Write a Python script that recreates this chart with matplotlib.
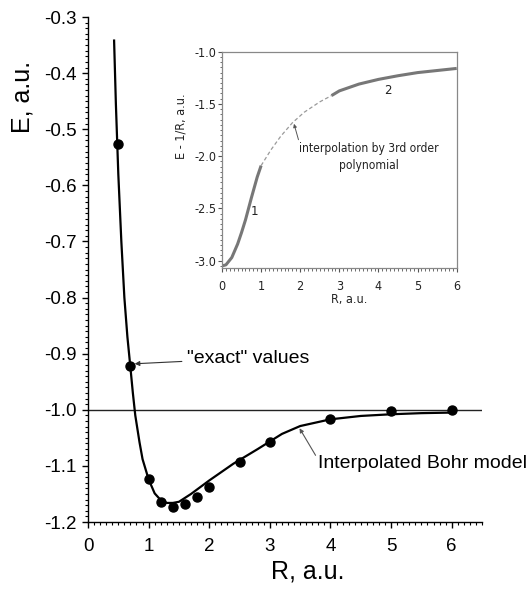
import matplotlib
matplotlib.use("Agg")
import matplotlib.pyplot as plt
from matplotlib import font_manager as fm
from matplotlib.ticker import MultipleLocator, FormatStrFormatter

# "exact" H2 ground-state energies
R_exact = [0.5, 0.7, 1.0, 1.2, 1.4, 1.6, 1.8, 2.0, 2.5, 3.0, 4.0, 5.0, 6.0]
E_exact = [-0.527, -0.922, -1.124, -1.165, -1.174, -1.168, -1.155, -1.138,
           -1.093, -1.057, -1.016, -1.003, -1.000]

# interpolated Bohr model curve
R_bohr = [0.43, 0.46, 0.50, 0.55, 0.60, 0.65, 0.70, 0.74, 0.78, 0.85, 0.90,
          1.00, 1.10, 1.20, 1.30, 1.40, 1.50, 1.70, 2.00, 2.40, 2.80, 3.20,
          3.50, 4.00, 4.50, 5.00, 5.50, 6.00]
E_bohr = [-0.340, -0.455, -0.580, -0.700, -0.800, -0.870, -0.925, -0.970,
          -1.010, -1.058, -1.088, -1.124, -1.149, -1.161, -1.166, -1.166,
          -1.164, -1.150, -1.126, -1.096, -1.070, -1.043, -1.029, -1.017,
          -1.011, -1.008, -1.006, -1.005]

# inset: E - 1/R, region 1 (small R), interpolation, region 2 (large R)
R_seg1 = [0.0, 0.1, 0.25, 0.4, 0.5, 0.6, 0.75, 0.9, 1.0]
E_seg1 = [-3.05, -3.04, -2.97, -2.84, -2.73, -2.61, -2.40, -2.20, -2.09]
R_poly = [1.0, 1.25, 1.5, 1.8, 2.1, 2.5, 2.8]
E_poly = [-2.09, -1.94, -1.81, -1.68, -1.58, -1.48, -1.42]
R_seg2 = [2.8, 3.0, 3.5, 4.0, 4.5, 5.0, 5.5, 6.0]
E_seg2 = [-1.42, -1.375, -1.31, -1.265, -1.23, -1.20, -1.18, -1.16]

W, H = 527, 591
plt.rcParams['font.family'] = ['Liberation Sans', 'DejaVu Sans']

# pick a narrow face for the inset if one is installed
_faces = fm.fontManager.ttflist
if any(f.name == 'Liberation Sans Narrow' for f in _faces):
    NARROW = dict(family=['Liberation Sans Narrow', 'DejaVu Sans'])
    NS = 1.0
elif any(f.name == 'DejaVu Sans' and f.stretch == 'condensed' for f in _faces):
    NARROW = dict(family=['DejaVu Sans'], stretch='condensed')
    NS = 0.9
else:
    NARROW = dict(family=['Liberation Sans', 'DejaVu Sans'])
    NS = 0.88

fig = plt.figure(figsize=(W / 100, H / 100), dpi=100)

# ---- main axes ----
ax = fig.add_axes([88 / W, 1 - 522 / H, (482 - 88) / W, (522 - 17) / H])
ax.set_xlim(0, 6.5)
ax.set_ylim(-1.2, -0.3)
for s in ('top', 'right'):
    ax.spines[s].set_visible(False)
for s in ('left', 'bottom'):
    ax.spines[s].set_linewidth(1.0)
ax.xaxis.set_major_locator(MultipleLocator(1))
ax.xaxis.set_minor_locator(MultipleLocator(0.1))
ax.yaxis.set_major_locator(MultipleLocator(0.1))
ax.yaxis.set_minor_locator(MultipleLocator(0.01))
ax.yaxis.set_major_formatter(FormatStrFormatter('%.1f'))
ax.tick_params(which='major', direction='out', length=4.3, width=1.0,
               labelsize=13.5)
ax.tick_params(which='minor', direction='out', length=2.5, width=0.8)
ax.tick_params(axis='x', which='major', pad=7.5)
ax.tick_params(axis='y', which='major', pad=4)

ax.axhline(-1.0, color='#222222', lw=1.0, zorder=1)
ax.plot(R_bohr, E_bohr, color='black', lw=1.6, zorder=2,
        solid_capstyle='butt', solid_joinstyle='round')
ax.plot(R_exact, E_exact, 'o', color='black', ms=6.5, zorder=3)

fig.text(22.5 / W, 1 - 97 / H, 'E, a.u.', rotation=90, ha='center',
         va='center', fontsize=18)
fig.text(308 / W, 1 - 571 / H, 'R, a.u.', ha='center', va='center',
         fontsize=18)

ax.annotate('"exact" values', xy=(0.77, -0.918), xytext=(1.64, -0.908),
            fontsize=14, va='center', ha='left',
            arrowprops=dict(arrowstyle='-|>', lw=0.8, color='#333333',
                            mutation_scale=7, shrinkA=2, shrinkB=0))
ax.annotate('Interpolated Bohr model', xy=(3.49, -1.033),
            xytext=(3.80, -1.0956), fontsize=14, va='center', ha='left',
            annotation_clip=False,
            arrowprops=dict(arrowstyle='-|>', lw=0.8, color='#555555',
                            mutation_scale=6, shrinkA=0, shrinkB=0,
                            relpos=(0, 0.7)))

# ---- inset axes ----
ins = fig.add_axes([222 / W, 1 - 268 / H, (456.7 - 222) / W, (268 - 51.7) / H])
ins.set_xlim(0, 6)
ins.set_ylim(-3.07, -1.0)
for s in ins.spines.values():
    s.set_color('#888888')
    s.set_linewidth(0.9)
ins.xaxis.set_major_locator(MultipleLocator(1))
ins.xaxis.set_minor_locator(MultipleLocator(0.1))
ins.yaxis.set_major_locator(MultipleLocator(0.5))
ins.yaxis.set_minor_locator(MultipleLocator(0.05))
ins.yaxis.set_major_formatter(FormatStrFormatter('%.1f'))
ins.tick_params(which='both', direction='out', top=False, right=False,
                color='#555555', labelcolor='#222222')
ins.tick_params(which='major', length=3, width=0.8, labelsize=10 * NS)
ins.tick_params(which='minor', length=1.8, width=0.6)
ins.tick_params(axis='x', which='major', pad=5.5)
ins.tick_params(axis='y', which='major', pad=1)
for lab in ins.get_xticklabels() + ins.get_yticklabels():
    lab.set(**NARROW)

ins.plot(R_seg1, E_seg1, color='#777777', lw=2.2, solid_capstyle='butt')
ins.plot(R_poly, E_poly, color='#9a9a9a', lw=0.9, ls=(0, (3, 2)))
ins.plot(R_seg2, E_seg2, color='#777777', lw=2.2, solid_capstyle='butt')

ins.text(0.82, -2.53, '1', fontsize=10.5 * NS, ha='center', va='center',
         color='#222222', **NARROW)
ins.text(4.25, -1.37, '2', fontsize=10.5 * NS, ha='center', va='center',
         color='#222222', **NARROW)
ins.annotate('interpolation by 3rd order\npolynomial', xy=(1.84, -1.69),
             xytext=(3.76, -2.01), fontsize=9.6 * NS, ha='center',
             va='center', color='#222222', linespacing=1.35,
             arrowprops=dict(arrowstyle='-|>', lw=0.7, color='#555555',
                             mutation_scale=5, shrinkA=0, shrinkB=0,
                             relpos=(0.0, 1.0)),
             **NARROW)

fig.text(180.7 / W, 1 - 126 / H, 'E - 1/R, a.u.', rotation=90, ha='center',
         va='center', fontsize=10 * NS, color='#222222', **NARROW)
fig.text(349 / W, 1 - 300 / H, 'R, a.u.', ha='center', va='center',
         fontsize=10 * NS, color='#222222', **NARROW)

fig.savefig('out.png', dpi=100)
